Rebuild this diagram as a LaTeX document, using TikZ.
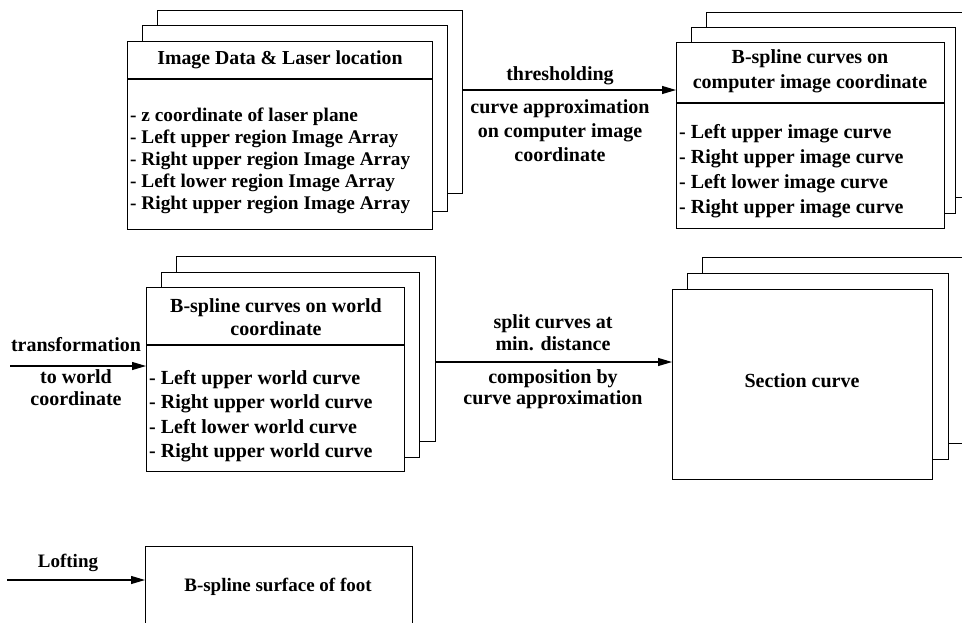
\documentclass[tikz,border=0pt]{standalone}
\usepackage{fontspec}
\setmainfont{Liberation Serif}
\usetikzlibrary{arrows.meta}

\newcommand\fs[2]{\bfseries\fontsize{#1}{#2}\selectfont}

\tikzset{
  card/.style={draw, line width=1.1pt, fill=white, inner sep=0pt, anchor=north west},
  txt/.style={font=\fs{20}{22}, align=center, inner sep=0pt},
  items/.style={txt, align=left, anchor=north west},
  arr/.style={line width=1.1pt, -{Triangle[length=14pt,width=8pt]}},
  rule/.style={line width=1.1pt}
}

\begin{document}
\begin{tikzpicture}[x=1pt, y=-1pt]
\useasboundingbox (0,0) rectangle (962,622);
\clip (0,0) rectangle (962,622);

% ---- stack 1: image data and laser location
\node[card, minimum width=305pt, minimum height=183pt] (imgC) at (157,10) {};
\node[card, minimum width=305pt, minimum height=186pt] (imgB) at (142,25) {};
\node[card, minimum width=305pt, minimum height=188pt] (img) at (127,41) {};
\draw[rule] (img.west |- 0,79) -- (img.east |- 0,79);
\node[txt, font=\fs{19.8}{22}] (imgT) at (280,60) {Image Data \& Laser location};
\node[items, font=\fs{19.3}{22}] (imgL) at (130,108) {- z coordinate of laser plane\\- Left upper region Image Array\\- Right upper region Image Array\\- Left lower region Image Array\\- Right upper region Image Array};

% ---- stack 2: B-spline curves on computer image coordinate
\node[card, minimum width=280pt, minimum height=185pt] (cimC) at (706,12) {};
\node[card, minimum width=264pt, minimum height=186pt] (cimB) at (691,27) {};
\node[card, minimum width=268pt, minimum height=186pt] (cim) at (676,42) {};
\draw[rule] (cim.west |- 0,103) -- (cim.east |- 0,103);
\node[txt, font=\fs{20}{25}] (cimT) at (810,71) {B-spline curves on\\computer image coordinate};
\node[items, font=\fs{20}{25}] (cimL) at (679,124) {- Left upper image curve\\- Right upper image curve\\- Left lower image curve\\- Right upper image curve};

% ---- stack 3: B-spline curves on world coordinate
\node[card, minimum width=259pt, minimum height=185pt] (wldC) at (176,256) {};
\node[card, minimum width=258pt, minimum height=185pt] (wldB) at (161,272) {};
\node[card, minimum width=258pt, minimum height=184pt] (wld) at (146,287) {};
\draw[rule] (wld.west |- 0,345) -- (wld.east |- 0,345);
\node[txt, font=\fs{20}{23}] (wldT) at (276,317) {B-spline curves on world\\coordinate};
\node[items, font=\fs{20}{24.5}] (wldL) at (149,370) {- Left upper world curve\\- Right upper world curve\\- Left lower world curve\\- Right upper world curve};

% ---- stack 4: section curve
\node[card, minimum width=280pt, minimum height=186pt] (secC) at (702,257) {};
\node[card, minimum width=261pt, minimum height=186pt] (secB) at (687,273) {};
\node[card, minimum width=260pt, minimum height=190pt] (sec) at (672,289) {};
\node[txt] (secT) at (802,381) {Section curve};

% ---- surface of the foot
\node[card, minimum width=267pt, minimum height=100pt] (surf) at (145,546) {};
\node[txt, font=\fs{19}{22}] (surfT) at (278,587) {B-spline surface of foot};

% ---- connectors and their labels
\coordinate (y1) at (0,90);
\draw[arr] (imgC.east |- y1) -- (cim.west |- y1);
\node[txt] (a1top) at (560,76) {thresholding};
\node[txt, font=\fs{20}{24}] (a1bot) at (560,131) {curve approximation\\on computer image\\coordinate};

\coordinate (tIn) at (10,366);
\draw[arr] (tIn) -- (wld.west |- tIn);
\node[txt] (a2top) at (76,345) {transformation};
\node[txt] (a2bot) at (76,388) {to world\\coordinate};

\coordinate (y3) at (0,362);
\draw[arr] (wldC.east |- y3) -- (sec.west |- y3);
\node[txt] (a3top) at (553,333) {split curves at\\min. distance};
\node[txt, font=\fs{20}{21}] (a3bot) at (553,389) {composition by\\curve approximation};

\coordinate (lIn) at (7,580);
\draw[arr] (lIn) -- (surf.west |- lIn);
\node[txt, font=\fs{19}{22}] (a4top) at (68,563) {Lofting};
\end{tikzpicture}
\end{document}
